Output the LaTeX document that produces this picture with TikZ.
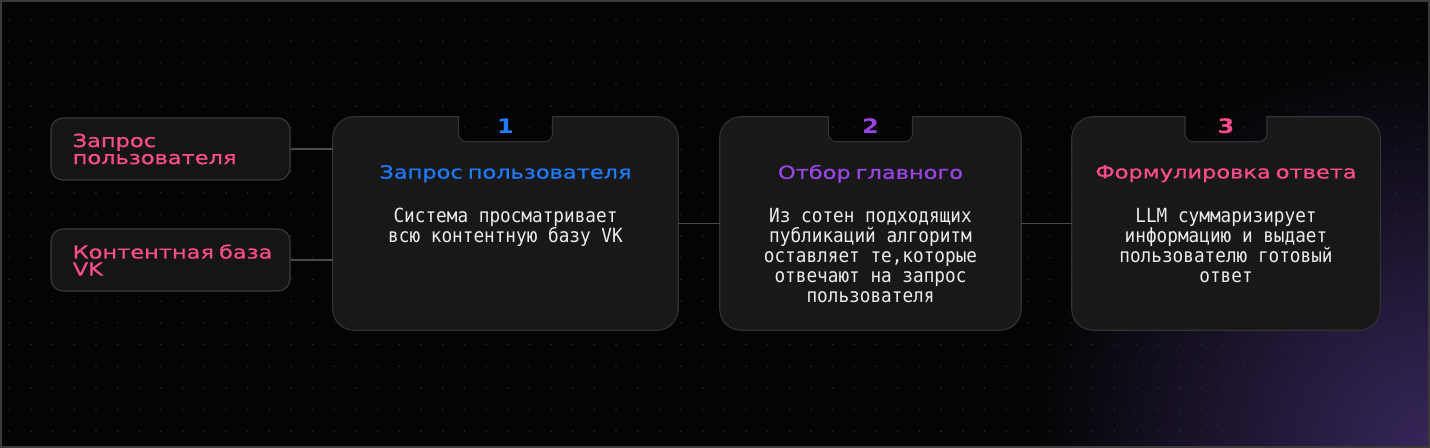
\documentclass[tikz,border=0pt]{standalone}
\usepackage{fontspec}
\setmainfont{DejaVu Sans}
\setmonofont[FakeStretch=0.91]{DejaVu Sans Mono}
\newfontfamily\headfont[FakeStretch=1.25,WordSpace=0.7,FakeBold=0.6]{DejaVu Sans}
\newfontfamily\numfont[FakeStretch=1.2]{DejaVu Sans Bold}
\usetikzlibrary{positioning}
\usetikzlibrary{calc}
\definecolor{bgc}{HTML}{040404}
\definecolor{dotc}{HTML}{2A2A2A}
\definecolor{glowc}{HTML}{36265A}
\definecolor{framec}{HTML}{3A3A3A}
\definecolor{cardfill}{HTML}{181818}
\definecolor{cardedge}{HTML}{333333}
\definecolor{boxfill}{HTML}{151515}
\definecolor{boxedge}{HTML}{3C3C3C}
\definecolor{linkc}{HTML}{4A4A4A}
\definecolor{textc}{HTML}{ECECEC}
\definecolor{pinkc}{HTML}{FF4D8D}
\definecolor{bluec}{HTML}{1F7BFF}
\definecolor{purplec}{HTML}{9B44E8}

% card with a notch cut out of the top edge
\newcommand{\notchcard}[2]{%
    \draw[draw=cardedge, fill=cardfill, line width=0.8pt]
        ($(#1.north)+(-#2,0)$) [rounded corners=6pt] -- ($(#1.north)+(-#2,25)$) -- ($(#1.north)+(#2,25)$)
        [sharp corners] -- ($(#1.north)+(#2,0)$) [rounded corners=16pt] -- (#1.north east) -- (#1.south east)
        -- (#1.south west) -- (#1.north west) [sharp corners] -- cycle;
}

\tikzset{
    inbox/.style={draw=boxedge, fill=boxfill, line width=0.8pt, rounded corners=9pt, minimum width=179.25pt, minimum height=46.5pt, inner sep=0pt},
    intext/.style={text=pinkc, font=\headfont\fontsize{13.5}{12.75}\selectfont, align=left, anchor=west, inner sep=0pt},
    card/.style={minimum height=159.75pt, inner sep=0pt},
    stepnum/.style={font=\numfont\fontsize{15}{15}\selectfont, inner sep=0pt},
    stitle/.style={font=\headfont\fontsize{13.5}{16}\selectfont, inner sep=0pt},
    sbody/.style={font=\ttfamily\fontsize{14.6}{15}\selectfont, text=textc, align=center, inner sep=0pt},
    link/.style={draw=linkc, line width=1.2pt},
}

\begin{document}
\begin{tikzpicture}[x=0.75pt, y=-0.75pt]
    \useasboundingbox (0,0) rectangle (1430,448);
    \fill[bgc] (0,0) rectangle (1430,448);
    \begin{scope}
        \clip (0,0) rectangle (1430,448);
        \shade[inner color=glowc, outer color=bgc] (1430,448) circle (400);
    \end{scope}
    \foreach \i in {0,...,65}
        \foreach \j in {0,...,19}
            \fill[dotc] (9.3+21.67*\i, 19.5+21.67*\j) circle (0.9);
    \draw[framec, line width=1.5pt] (1,1) rectangle (1429,447);

    % inputs
    \node[inbox] (in1) at (170.5,149) {};
    \node[inbox] (in2) at (170.5,260) {};
    \node[intext] (q1) at ($(in1.west)+(22,0)$) {Запрос\\пользователя};
    \node[intext] (q2) at ($(in2.west)+(22,0)$) {Контентная база\\VK};

    % steps
    \node[card, minimum width=258.75pt] (c1) at (505.5,223.5) {};
    \node[card, minimum width=225.75pt] (c2) at (870.5,223.5) {};
    \node[card, minimum width=231pt] (c3) at (1226,223.5) {};
    \notchcard{c1}{47}
    \notchcard{c2}{42}
    \notchcard{c3}{41}

    \draw[link] (in1.east) -- (in1.east -| c1.west);
    \draw[link] (in2.east) -- (in2.east -| c1.west);
    \draw[link] (c1.east) -- (c2.west);
    \draw[link] (c2.east) -- (c3.west);

    \node[stepnum, text=bluec] (n1) at ($(c1.north)+(0,9)$) {1};
    \node[stepnum, text=purplec] (n2) at ($(c2.north)+(0,9)$) {2};
    \node[stepnum, text=pinkc] (n3) at ($(c3.north)+(0,9)$) {3};

    \node[stitle, text=bluec] (t1) at ($(c1.north)+(0,57)$) {Запрос пользователя};
    \node[stitle, text=purplec] (t2) at ($(c2.north)+(0,57)$) {Отбор главного};
    \node[stitle, text=pinkc] (t3) at ($(c3.north)+(0,57)$) {Формулировка ответа};

    \node[sbody, below=19pt of t1] (b1) {Система просматривает\\всю контентную базу VK};
    \node[sbody, below=19pt of t2] (b2) {Из сотен подходящих\\публикаций алгоритм\\оставляет те,которые\\отвечают на запрос\\пользователя};
    \node[sbody, below=19pt of t3] (b3) {LLM суммаризирует\\информацию и выдает\\пользователю готовый\\ответ};
\end{tikzpicture}
\end{document}
